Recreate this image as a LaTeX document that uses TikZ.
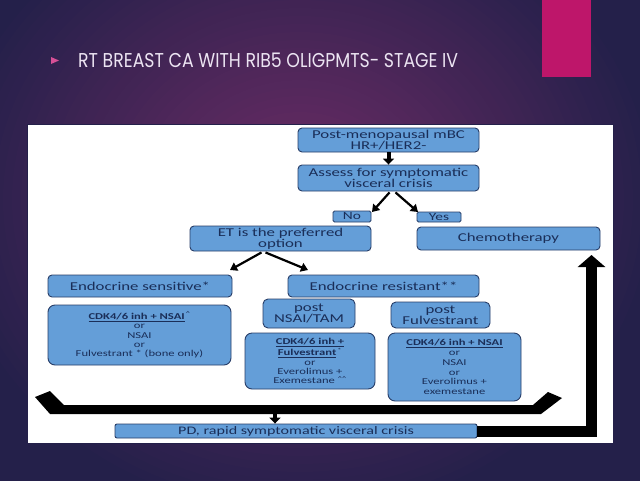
\documentclass[tikz,border=0pt]{standalone}
\usepackage{fontspec}
\usetikzlibrary{arrows.meta,calc}
\setmainfont{Carlito}
\newfontfamily\boxfont[FakeStretch=1.4]{Carlito}
\newfontfamily\titlefont{Poppins}
\definecolor{bgdark}{RGB}{36,32,74}
\definecolor{bgmid}{RGB}{112,44,102}
\definecolor{pinkbar}{RGB}{190,22,106}
\definecolor{bullet}{RGB}{214,80,150}
\definecolor{titlec}{RGB}{236,228,242}
\definecolor{boxblue}{RGB}{100,158,216}
\definecolor{boxline}{RGB}{40,62,104}
\definecolor{boxtext}{RGB}{26,46,88}
\tikzset{
  bx/.style={draw=boxline, line width=0.9pt, fill=boxblue, rounded corners=4pt,
    inner sep=0pt, align=center, text=boxtext, font=\boxfont\fontsize{12}{11}\selectfont},
  smallbx/.style={bx, rounded corners=7pt, font=\boxfont\fontsize{9}{9.3}\selectfont},
  thinarrow/.style={line width=2.2pt, -{Triangle[width=9pt,length=7pt]}},
  blockarrow/.style={line width=4pt, -{Triangle[width=11pt,length=6pt]}},
}
\newcommand{\ul}[1]{\underline{\textbf{#1}}}
\begin{document}
\begin{tikzpicture}[x=1pt,y=-1pt]
\useasboundingbox (0,0) rectangle (640,480);
% background
\begin{scope}
\clip (0,0) rectangle (640,480);
\fill[bgdark] (-10,-10) rectangle (650,490);
\foreach \i in {40,39,...,1}{
  \pgfmathsetmacro{\pc}{100-2.5*\i}
  \fill[bgmid!\pc!bgdark] (300,200) ellipse ({9*\i} and {8*\i});
}
\fill[pinkbar] (542,0) rectangle (591,77);
\end{scope}
% title
\fill[bullet] (51,57) -- (59,60.5) -- (51,64) -- cycle;
\node[anchor=south west, inner sep=0pt, text=titlec] (title) at (78,68)
  {\resizebox{380pt}{14.5pt}{\titlefont RT BREAST CA WITH RIB5 OLIGPMTS- STAGE IV}};
% white panel
\fill[white, draw=bgdark, line width=0.8pt] (27,124) rectangle (613,443);
% boxes
\node[bx, minimum width=181pt, minimum height=24pt] (post) at (388.5,140) {Post-menopausal mBC\\HR+/HER2-};
\node[bx, minimum width=181pt, minimum height=26pt] (assess) at (388.5,178) {Assess for symptomatic\\visceral crisis};
\node[bx, rounded corners=1.5pt, minimum width=38pt, minimum height=11pt, font=\boxfont\fontsize{11}{11}\selectfont] (no) at (352,216.5) {No};
\node[bx, rounded corners=1.5pt, minimum width=44pt, minimum height=10pt, font=\boxfont\fontsize{11}{11}\selectfont] (yes) at (439,217) {Yes};
\node[bx, minimum width=181pt, minimum height=25pt] (et) at (280.5,238.5) {ET is the preferred\\option};
\node[bx, minimum width=183pt, minimum height=23pt] (chemo) at (508.5,238.5) {Chemotherapy};
\node[bx, minimum width=184pt, minimum height=22pt] (sens) at (140,286) {Endocrine sensitive*};
\node[bx, minimum width=191pt, minimum height=22pt] (res) at (383.5,286) {Endocrine resistant**};
\node[bx, rounded corners=5pt, minimum width=92pt, minimum height=29pt] (ptam) at (309,313.5) {post\\NSAI/TAM};
\node[bx, rounded corners=5pt, minimum width=99pt, minimum height=26pt] (pfulv) at (440.5,315) {post\\Fulvestrant};
\node[smallbx, minimum width=183pt, minimum height=60pt] (cdk1) at (139.5,335)
  {\ul{CDK4/6 inh + NSAI}\textsuperscript{\,\^{}}\\or\\NSAI\\or\\Fulvestrant * (bone only)};
\node[smallbx, minimum width=130pt, minimum height=56pt] (cdk2) at (310,361)
  {\ul{CDK4/6 inh +}\\\ul{Fulvestrant}\textsuperscript{\,*}\\or\\Everolimus +\\Exemestane \textsuperscript{\^{}\^{}}};
\node[smallbx, minimum width=133pt, minimum height=68pt, font=\boxfont\fontsize{9}{9.8}\selectfont] (cdk3) at (454.5,367)
  {\ul{CDK4/6 inh + NSAI}\\or\\NSAI\\or\\Everolimus +\\exemestane};
\node[bx, rounded corners=2pt, minimum width=362pt, minimum height=14pt, font=\boxfont\fontsize{11.5}{11}\selectfont] (pd) at (296,431) {PD, rapid symptomatic visceral crisis};
% arrows
\draw[blockarrow] (post.south) -- (assess.north);
\draw[thinarrow] ($(assess.south)+(1,1)$) -- (372,212);
\draw[thinarrow] ($(assess.south)+(7,1)$) -- (418,212);
\draw[thinarrow] ($(et.south)+(-19,1)$) -- (230,270);
\draw[thinarrow] ($(et.south)+(-15,1)$) -- (308,270);
% bracket collecting the three treatment columns
\fill[black] (35,397) -- (50,391) -- (64,405) -- (533,405) -- (548,392) -- (562,398) -- (541,414) -- (50,414) -- cycle;
\coordinate (brk) at (275,414);
\draw[blockarrow] (brk) -- (pd.north -| brk);
% return arrow to chemotherapy
\coordinate (up) at (591.5,255);
\draw[line width=11pt, line join=miter, -{Triangle[width=27pt,length=12pt]}] (pd.east) -| (up);
\end{tikzpicture}
\end{document}
